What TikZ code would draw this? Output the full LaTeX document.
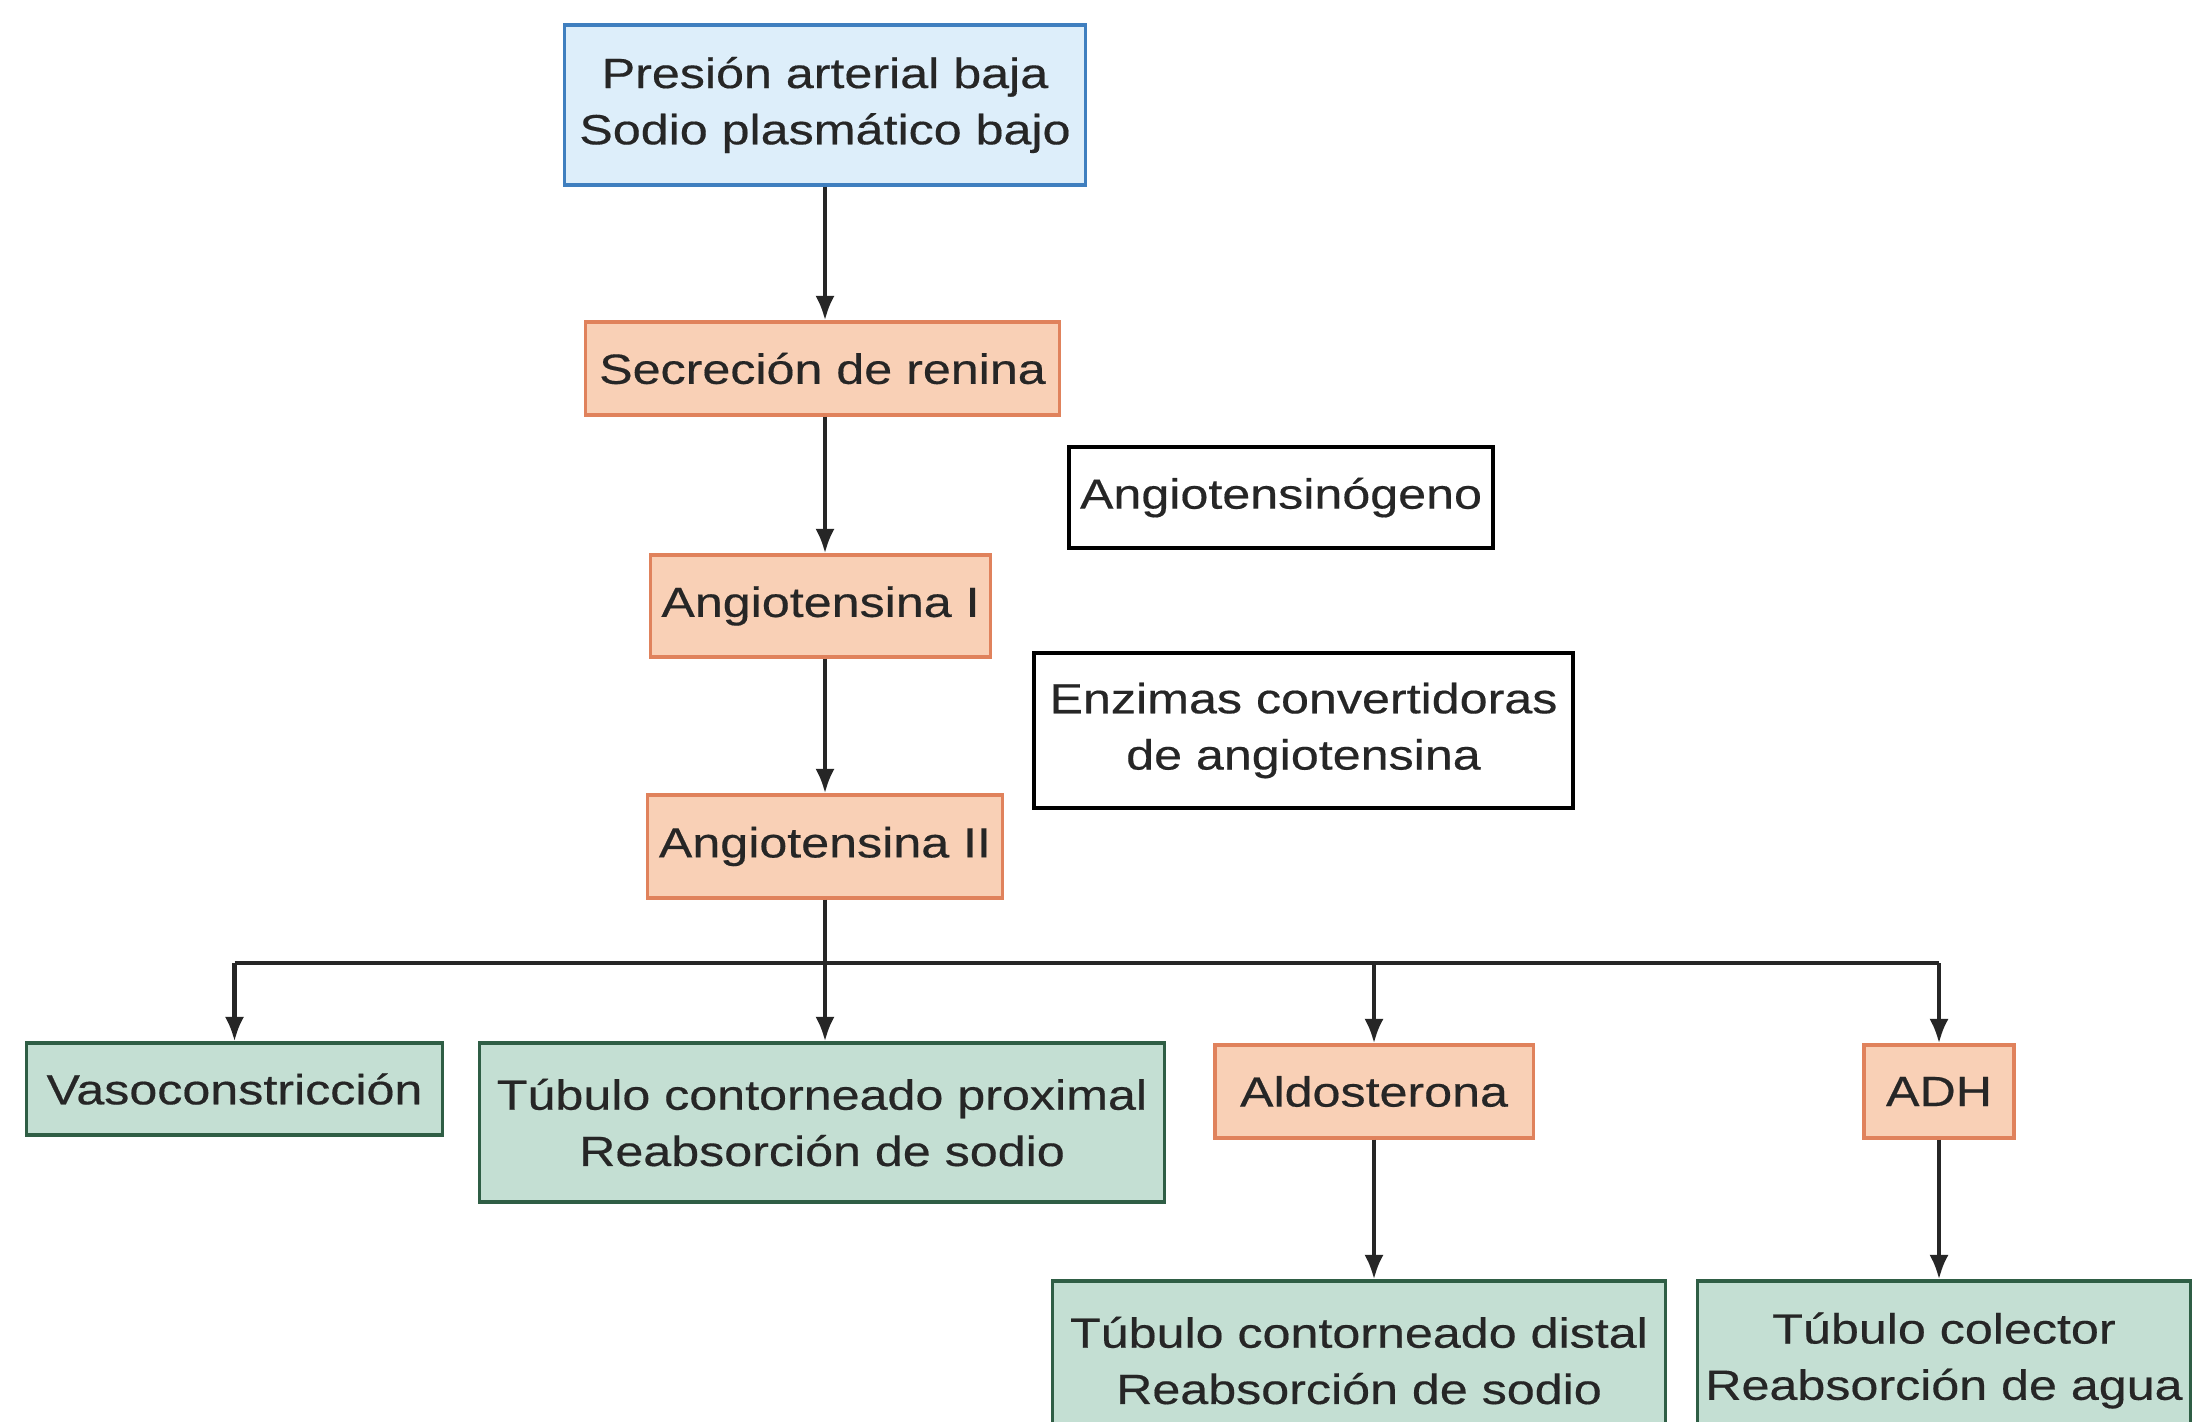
\documentclass[tikz,border=0pt]{standalone}
\usepackage{fontspec}
\setmainfont{Liberation Sans}[FakeStretch=1.19,FakeBold=0.4]
\usetikzlibrary{arrows.meta}
\definecolor{bluefill}{HTML}{DDEEFA}
\definecolor{blueline}{HTML}{3F7FBF}
\definecolor{orfill}{HTML}{F9D0B6}
\definecolor{orline}{HTML}{E0825C}
\definecolor{grfill}{HTML}{C4DFD3}
\definecolor{grline}{HTML}{2F5E45}
\definecolor{txt}{HTML}{262626}
\tikzset{
  box/.style={draw, line width=0.9pt, inner sep=0pt, align=center, text=txt,
    font=\fontsize{12}{16}\selectfont},
  bluebox/.style={box, fill=bluefill, draw=blueline},
  orbox/.style={box, fill=orfill, draw=orline},
  grbox/.style={box, fill=grfill, draw=grline},
  wbox/.style={box, fill=white, draw=black, line width=1.1pt},
  conn/.style={line width=1.2pt, draw=black!85},
  arr/.style={conn, -{Latex[length=7pt,width=5.5pt]}}
}
\begin{document}
\begin{tikzpicture}[x=0.01cm,y=-0.01cm]
\useasboundingbox (0,0) rectangle (2212,1422);
\clip (0,0) rectangle (2212,1422);
\fill[white] (0,0) rectangle (2212,1422);
\node[bluebox, minimum width=5.21cm, minimum height=1.60cm] (top) at (825,105) {Presión arterial baja\\Sodio plasmático bajo};
\node[orbox, minimum width=4.73cm, minimum height=0.93cm] (ren) at (822.5,368.5) {Secreción de renina};
\node[wbox, minimum width=4.24cm, minimum height=1.01cm] (ango) at (1281,497.5) {Angiotensinógeno};
\node[orbox, minimum width=3.39cm, minimum height=1.02cm] (a1) at (820.5,606) {Angiotensina I};
\node[wbox, minimum width=5.39cm, minimum height=1.55cm] (enz) at (1303.5,730.5) {Enzimas convertidoras\\de angiotensina};
\node[orbox, minimum width=3.54cm, minimum height=1.03cm] (a2) at (825,846.5) {Angiotensina II};
\node[grbox, minimum width=4.15cm, minimum height=0.92cm] (vaso) at (234.5,1089) {Vasoconstricción};
\node[grbox, minimum width=6.84cm, minimum height=1.59cm] (tcp) at (822,1122.5) {Túbulo contorneado proximal\\Reabsorción de sodio};
\node[orbox, minimum width=3.18cm, minimum height=0.93cm] (aldo) at (1374,1091.5) {Aldosterona};
\node[orbox, minimum width=1.50cm, minimum height=0.93cm] (adh) at (1939,1091.5) {ADH};
\node[grbox, minimum width=6.12cm, minimum height=1.59cm] (tcd) at (1359,1360.5) {Túbulo contorneado distal\\Reabsorción de sodio};
\node[grbox, minimum width=4.92cm, minimum height=1.59cm] (tc) at (1944,1360.5) {Túbulo colector\\Reabsorción de agua};
\coordinate (hl) at (825,963);
\draw[arr] (top.south) -- (top.south |- ren.north);
\draw[arr] (ren.south -| top.south) -- (top.south |- a1.north);
\draw[arr] (a1.south -| top.south) -- (top.south |- a2.north);
\draw[conn] (a2.south) -- (hl);
\draw[conn] (hl -| vaso.north) -- (hl -| adh.north);
\draw[arr] (hl -| vaso.north) -- (vaso.north);
\draw[arr] (hl) -- (hl |- tcp.north);
\draw[arr] (hl -| aldo.north) -- (aldo.north);
\draw[arr] (hl -| adh.north) -- (adh.north);
\draw[arr] (aldo.south) -- (aldo.south |- tcd.north);
\draw[arr] (adh.south) -- (adh.south |- tc.north);
\end{tikzpicture}
\end{document}
